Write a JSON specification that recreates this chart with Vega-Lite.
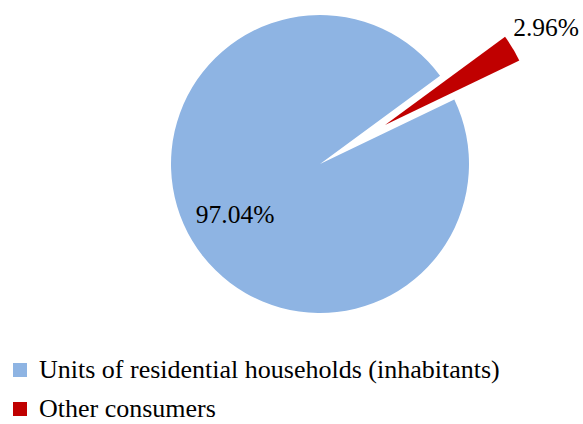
{
  "$schema": "https://vega.github.io/schema/vega-lite/v6.json",
  "width": 300,
  "height": 300,
  "autosize": {"type": "none"},
  "padding": {"left": 170, "top": 14, "right": 113, "bottom": 110},
  "background": "white",
  "data": {
    "values": [
      {"category": "Units of residential households (inhabitants)", "value": 97.04, "label": "97.04%", "ord": 2},
      {"category": "Other consumers", "value": 2.96, "label": "2.96%", "ord": 1}
    ]
  },
  "encoding": {
    "theta": {"field": "value", "type": "quantitative", "stack": true, "scale": {"range": [0.937, 7.2202]}},
    "order": {"field": "ord", "type": "ordinal"},
    "color": {
      "field": "category",
      "type": "nominal",
      "scale": {"domain": ["Units of residential households (inhabitants)", "Other consumers"], "range": ["#8EB4E3", "#C00000"]},
      "legend": {
        "title": null,
        "orient": "none",
        "legendX": -163,
        "legendY": 343,
        "padding": 0,
        "symbolType": "square",
        "symbolSize": 196,
        "symbolStrokeWidth": 0,
        "labelFont": "Liberation Serif",
        "labelFontSize": 26,
        "labelColor": "black",
        "labelOffset": 6,
        "rowPadding": 13,
        "labelLimit": 600
      }
    }
  },
  "layer": [
    {
      "mark": {"type": "arc", "radius": 149},
      "encoding": {
        "opacity": {"condition": {"test": "datum.category === 'Other consumers'", "value": 0}, "value": 1}
      }
    },
    {
      "mark": {"type": "arc", "radius": 149, "xOffset": 65, "yOffset": -39},
      "encoding": {
        "opacity": {"condition": {"test": "datum.category === 'Other consumers'", "value": 1}, "value": 0}
      }
    },
    {
      "mark": {"type": "text", "radius": 99, "font": "Liberation Serif", "fontSize": 25.5, "align": "center", "baseline": "middle"},
      "encoding": {
        "color": {"value": "black"},
        "text": {"condition": {"test": "datum.category !== 'Other consumers'", "field": "label"}, "value": ""}
      }
    },
    {
      "mark": {"type": "text", "radius": 188, "xOffset": 65, "yOffset": -39, "font": "Liberation Serif", "fontSize": 25.5, "align": "center", "baseline": "middle"},
      "encoding": {
        "color": {"value": "black"},
        "text": {"condition": {"test": "datum.category === 'Other consumers'", "field": "label"}, "value": ""}
      }
    }
  ]
}
